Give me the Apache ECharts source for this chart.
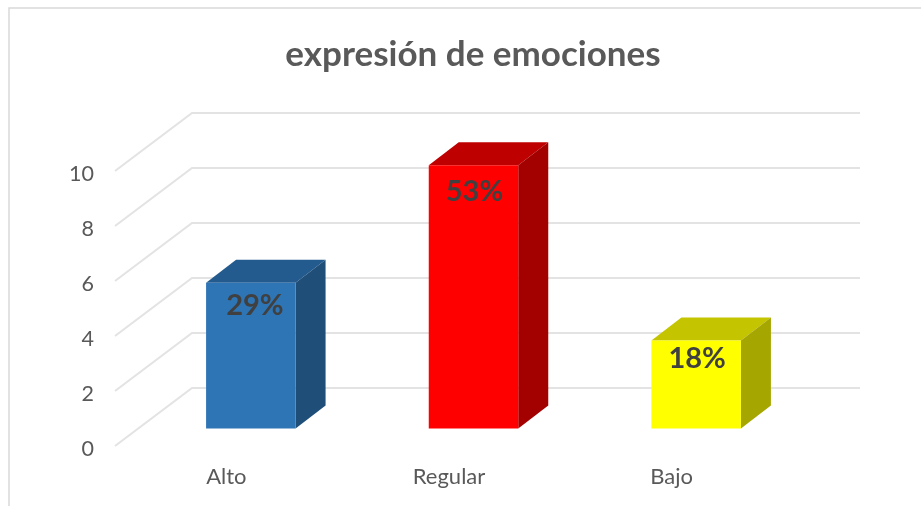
<!DOCTYPE html>
<html>
<head>
<meta charset="utf-8">
<style>
  html, body { margin: 0; padding: 0; background: #fff; }
  #chart { width: 921px; height: 506px; }
</style>
<script src="https://cdn.jsdelivr.net/npm/echarts@6/dist/echarts.min.js"></script>
</head>
<body>
<div id="chart"></div>
<script>
const categories = ["Alto", "Regular", "Bajo"];
const values = [5.3, 9.57, 3.2];
const percentLabels = ["29%", "53%", "18%"];
const yTicks = [0, 2, 4, 6, 8, 10];

// [front, top, side]
const barShades = [
  ["#2e75b6", "#245b8e", "#1f4e79"],
  ["#ff0000", "#bf0000", "#a30000"],
  ["#ffff00", "#c4c400", "#a6a600"]
];
const fontFamily = "Lato, Carlito, sans-serif";
const lineColor = "#e3e3e3";
const wallDepth = [77, -58];
const barDepth = [30, -23];
const barOffset = [24.5, -17.5];
const barWidth = 89.5;
const labelShift = [[4, 23], [1, 26], [1, 18]];

let myChart = echarts.init(document.getElementById("chart"));

function renderWall(params, api) {
  const y = api.coord([0, api.value(0)])[1];
  const x0 = params.coordSys.x;
  const x1 = x0 + params.coordSys.width;
  return {
    type: "polyline",
    silent: true,
    shape: {
      points: [
        [x0, y],
        [x0 + wallDepth[0], y + wallDepth[1]],
        [x1 + wallDepth[0], y + wallDepth[1]]
      ]
    },
    style: { stroke: lineColor, lineWidth: 2, fill: null }
  };
}

function renderBar(params, api) {
  const i = params.dataIndex;
  const top = api.coord([api.value(0), api.value(1)]);
  const base = api.coord([api.value(0), 0]);
  const l = top[0] + barOffset[0] - barWidth / 2;
  const r = l + barWidth;
  const t = top[1] + barOffset[1];
  const b = base[1] + barOffset[1];
  const dx = barDepth[0];
  const dy = barDepth[1];
  const shades = barShades[i];
  return {
    type: "group",
    children: [
      {
        type: "polygon",
        shape: { points: [[l, t], [l + dx, t + dy], [r + dx, t + dy], [r, t]] },
        style: { fill: shades[1] }
      },
      {
        type: "polygon",
        shape: { points: [[r, t], [r + dx, t + dy], [r + dx, b + dy], [r, b]] },
        style: { fill: shades[2] }
      },
      {
        type: "rect",
        shape: { x: l, y: t, width: barWidth, height: b - t },
        style: { fill: shades[0] }
      },
      {
        type: "text",
        style: {
          x: (l + r) / 2 + labelShift[i][0],
          y: t + labelShift[i][1],
          text: percentLabels[i],
          fill: "#404040",
          font: "bold 29px " + fontFamily,
          align: "center",
          verticalAlign: "middle"
        }
      }
    ]
  };
}

let option = {
  animation: false,
  backgroundColor: "#fff",
  title: {
    text: "expresión de emociones",
    left: 468,
    top: 32,
    textAlign: "center",
    textStyle: {
      color: "#595959",
      fontFamily: fontFamily,
      fontWeight: "bold",
      fontSize: 35
    }
  },
  grid: { left: 115, top: 171, width: 668, height: 275 },
  xAxis: {
    type: "category",
    data: categories,
    axisLine: { show: false },
    axisTick: { show: false },
    axisLabel: {
      color: "#595959",
      fontFamily: fontFamily,
      fontSize: 22,
      margin: 20
    }
  },
  yAxis: {
    type: "value",
    min: 0,
    max: 10,
    interval: 2,
    axisLine: { show: false },
    axisTick: { show: false },
    splitLine: { show: false },
    axisLabel: {
      margin: 21,
      formatter: "{t|{value}}",
      rich: {
        t: {
          color: "#595959",
          fontFamily: fontFamily,
          fontSize: 21.5,
          padding: [6, 0, 0, 0]
        }
      }
    }
  },
  graphic: [
    {
      type: "polyline",
      silent: true,
      shape: { points: [[9, 506], [9, 8], [921, 8]] },
      style: { stroke: "#d9d9d9", lineWidth: 1.5, fill: null }
    }
  ],
  series: [
    {
      type: "custom",
      renderItem: renderWall,
      clip: false,
      silent: true,
      data: yTicks.map(v => [v]),
      encode: { y: 0 },
      z: 1
    },
    {
      type: "custom",
      renderItem: renderBar,
      clip: false,
      data: values.map((v, i) => [i, v]),
      encode: { x: 0, y: 1 },
      z: 2
    }
  ]
};
myChart.setOption(option);
</script>
</body>
</html>
